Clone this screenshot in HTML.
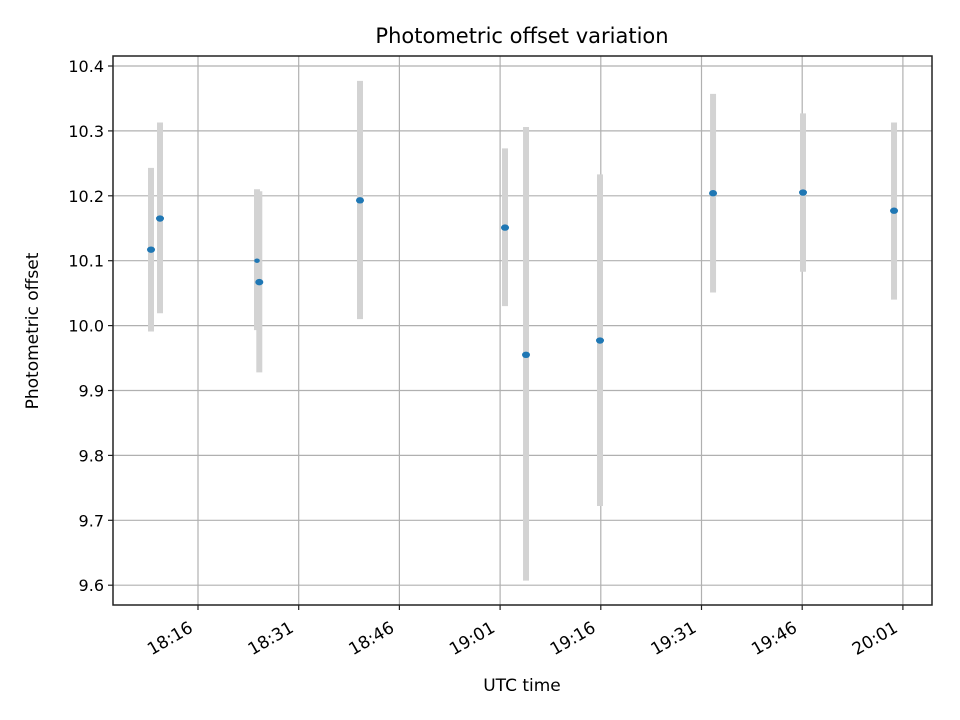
<!DOCTYPE html>
<html><head><meta charset="utf-8"><style>
html,body{margin:0;padding:0;background:#fff;}
svg{display:block;font-family:"DejaVu Sans","Liberation Sans",sans-serif;}
</style></head><body>
<svg id="chart" width="960" height="720" viewBox="0 0 960 720">
<rect x="0" y="0" width="960" height="720" fill="#fff"/>
<g id="grid"></g>
<g id="bars"></g>
<g id="pts"></g>
<rect x="113" y="56" width="819" height="549" fill="none" stroke="#222" stroke-width="1.5"/>
<g id="axes"></g>
<text x="522" y="43" font-size="21" text-anchor="middle" fill="#000">Photometric offset variation</text>
<text x="522" y="691" font-size="17" text-anchor="middle" fill="#000">UTC time</text>
<text x="33" y="331" font-size="17" text-anchor="middle" fill="#000" dominant-baseline="central" transform="rotate(-90 33 331)">Photometric offset</text>
</svg>
<script>
// minutes since 18:00 UTC
const times = [9.0, 10.34, 24.79, 25.13, 40.13, 61.73, 64.86, 75.88, 92.72, 106.12, 119.68];
const offsets = [10.117, 10.165, 10.100, 10.067, 10.193, 10.151, 9.955, 9.977, 10.204, 10.205, 10.177];
const errTop = [10.243, 10.313, 10.210, 10.207, 10.377, 10.273, 10.306, 10.233, 10.357, 10.327, 10.313];
const errBottom = [9.991, 10.019, 9.993, 9.928, 10.010, 10.030, 9.607, 9.722, 10.051, 10.083, 10.040];
const markerScale = [1, 1, 0.7, 1, 1, 1, 1, 1, 1, 1, 1];
const yTicks = [9.6, 9.7, 9.8, 9.9, 10.0, 10.1, 10.2, 10.3, 10.4];
const yTickLabels = ["9.6", "9.7", "9.8", "9.9", "10.0", "10.1", "10.2", "10.3", "10.4"];
const xTicks = [16, 31, 46, 61, 76, 91, 106, 121];
const xTickLabels = ["18:16", "18:31", "18:46", "19:01", "19:16", "19:31", "19:46", "20:01"];

const NS = "http://www.w3.org/2000/svg";
const L = 113, R = 932, T = 56, B = 605;
function xs(t){ return 198 + (t - 16) * (100.7 / 15); }
function ys(v){ return 66 + (10.4 - v) * 649; }
function mk(tag, attrs, parent){ const e = document.createElementNS(NS, tag); for (const k in attrs) e.setAttribute(k, attrs[k]); parent.appendChild(e); return e; }
const grid = document.getElementById('grid'), axes = document.getElementById('axes');
const bars = document.getElementById('bars'), pts = document.getElementById('pts');

yTicks.forEach((v, i) => {
  const y = ys(v);
  const g = mk('line', {x1: L, x2: R, y1: y, y2: y, stroke: '#b0b0b0', 'stroke-width': 1.2}, grid);
  
  
  const t = mk('line', {x1: L - 5, x2: L, y1: y, y2: y, stroke: '#222', 'stroke-width': 1.2}, axes);
  
  
  const lb = mk('text', {x: L - 9, y: y + 6, 'font-size': 16, 'text-anchor': 'end'}, axes);
  lb.textContent = yTickLabels[i];
  
  
});
xTicks.forEach((m, i) => {
  const x = xs(m);
  const g = mk('line', {x1: x, x2: x, y1: T, y2: B, stroke: '#b0b0b0', 'stroke-width': 1.2}, grid);
  
  
  const t = mk('line', {x1: x, x2: x, y1: B, y2: B + 5, stroke: '#222', 'stroke-width': 1.2}, axes);
  
  
  const lx = x - 4, ly = B + 26;
  const lb = mk('text', {x: lx, y: ly, 'font-size': 17, 'text-anchor': 'end', transform: 'rotate(-30 ' + lx + ' ' + ly + ')'}, axes);
  lb.textContent = xTickLabels[i];
  
  
});
times.forEach((m, i) => {
  const x = xs(m);
  const b = mk('line', {x1: x, x2: x, y1: ys(errTop[i]), y2: ys(errBottom[i]), stroke: '#d3d3d3', 'stroke-width': 6}, bars);
  
  
});
times.forEach((m, i) => {
  const s = markerScale[i];
  const p = mk('ellipse', {cx: xs(m), cy: ys(offsets[i]), rx: 4 * s, ry: 3.2 * s, fill: '#1f77b4'}, pts);
  
  
});
</script>
</body></html>
